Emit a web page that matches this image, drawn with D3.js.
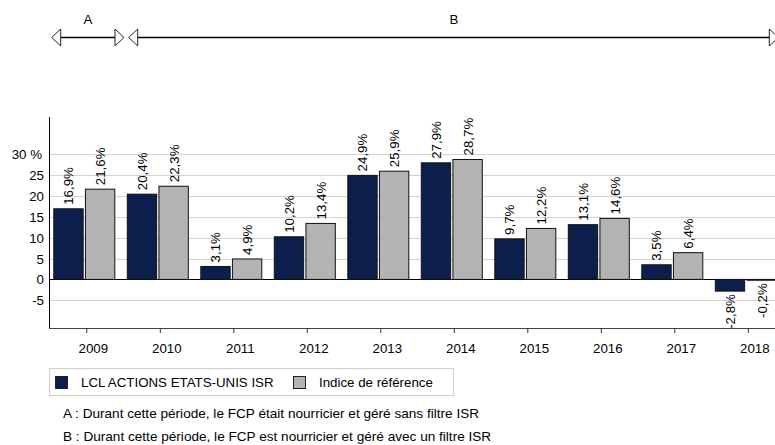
<!DOCTYPE html>
<html>
<head>
<meta charset="utf-8">
<script src="https://cdn.jsdelivr.net/npm/d3@7"></script>
<style>
  body { margin: 0; background: #fff; }
  text { font-family: "Liberation Sans", Arial, sans-serif; fill: #000; }
</style>
</head>
<body>
<script>
var width = 775,
  height = 445;

// donnees
var annees = ["2009", "2010", "2011", "2012", "2013", "2014", "2015", "2016", "2017", "2018"];
var fonds = [16.9, 20.4, 3.1, 10.2, 24.9, 27.9, 9.7, 13.1, 3.5, -2.8];
var indice = [21.6, 22.3, 4.9, 13.4, 25.9, 28.7, 12.2, 14.6, 6.4, -0.2];
var series = ["LCL ACTIONS ETATS-UNIS ISR", "Indice de référence"];
var yTicks = [-5, 0, 5, 10, 15, 20, 25, 30];
var periodes = [
  { nom: "A", debut: "2009", fin: "2009" },
  { nom: "B", debut: "2010", fin: "2018" }
];
var notes = [
  "A : Durant cette période, le FCP était nourricier et géré sans filtre ISR",
  "B : Durant cette période, le FCP est nourricier et géré avec un filtre ISR"
];

var taille = "13.3px";
var couleur = d3.scaleOrdinal().domain(series).range(["#0c1e4c", "#b3b3b3"]);

var svg = d3.select("body")
  .append("svg")
  .attr("width", width)
  .attr("height", height);

var x0 = d3.scaleBand().domain(annees).range([49.3, 784.3]).padding(0);
var x1 = d3.scaleBand().domain(series).range([4, 66]).paddingInner(0.04);
var y = d3.scaleLinear().domain([-11.7, 38.8]).range([328.3, 117.3]);

var data = annees.map(function (a, i) {
  return { annee: a, valeurs: [
    { serie: series[0], v: fonds[i] },
    { serie: series[1], v: indice[i] }
  ]};
});

// grille
svg.append("g")
  .selectAll("line")
  .data(yTicks)
  .enter().append("line")
  .attr("x1", 49)
  .attr("x2", width)
  .attr("y1", function (d) { return Math.round(y(d)) + 0.5; })
  .attr("y2", function (d) { return Math.round(y(d)) + 0.5; })
  .attr("stroke", function (d) { return d === 0 ? "#000" : "#d4d4d4"; })
  .attr("stroke-width", 1);

// etiquettes axe y
svg.append("g")
  .selectAll("text")
  .data(yTicks)
  .enter().append("text")
  .attr("x", function (d) { return d === 30 ? 42 : 44; })
  .attr("y", function (d) { return y(d) + 5; })
  .attr("text-anchor", "end")
  .style("font-size", taille)
  .text(function (d) { return d === 30 ? "30 %" : d; });

// barres
var groupes = svg.append("g")
  .selectAll("g")
  .data(data)
  .enter().append("g")
  .attr("transform", function (d) { return "translate(" + x0(d.annee) + ",0)"; });

groupes.selectAll("rect")
  .data(function (d) { return d.valeurs; })
  .enter().append("rect")
  .attr("x", function (d) { return x1(d.serie) + 0.5; })
  .attr("width", x1.bandwidth() - 1)
  .attr("y", function (d) { return Math.min(y(d.v), y(0)); })
  .attr("height", function (d) { return Math.abs(y(d.v) - y(0)); })
  .attr("fill", function (d) { return couleur(d.serie); })
  .attr("stroke", "#111")
  .attr("stroke-width", 1);

groupes.selectAll("text")
  .data(function (d) { return d.valeurs; })
  .enter().append("text")
  .attr("transform", function (d) {
    var cx = x1(d.serie) + x1.bandwidth() / 2 + 5;
    var cy = d.v >= 0 ? y(d.v) - 4 : y(d.v) + 3;
    return "translate(" + cx + "," + cy + ") rotate(-90)";
  })
  .attr("text-anchor", function (d) { return d.v >= 0 ? "start" : "end"; })
  .style("font-size", taille)
  .text(function (d) { return String(d.v).replace(".", ",") + "%"; });

// axes
svg.append("line")
  .attr("x1", 49.5).attr("x2", 49.5)
  .attr("y1", 117).attr("y2", 328.5)
  .attr("stroke", "#000");
svg.append("line")
  .attr("x1", 49).attr("x2", width)
  .attr("y1", 328.5).attr("y2", 328.5)
  .attr("stroke", "#444");

var ticks = svg.append("g")
  .selectAll("g")
  .data(annees)
  .enter().append("g")
  .attr("transform", function (d) { return "translate(" + x0(d) + ",0)"; });
ticks.append("line")
  .attr("x1", 37.5).attr("x2", 37.5)
  .attr("y1", 328).attr("y2", 333)
  .attr("stroke", "#333");
ticks.append("text")
  .attr("x", 44)
  .attr("y", 353)
  .attr("text-anchor", "middle")
  .style("font-size", taille)
  .text(function (d) { return d; });

// fleches des periodes
var fl = svg.append("g");
periodes.forEach(function (p, i) {
  var xa = x0(p.debut) + (i === 0 ? 2.4 : 5.9);
  var xb = x0(p.fin) + x0.step() + (i === periodes.length - 1 ? -6 : 1.2);
  var yy = 37.5;
  fl.append("line")
    .attr("x1", xa + 9).attr("x2", xb - 9)
    .attr("y1", yy).attr("y2", yy)
    .attr("stroke", "#000").attr("stroke-width", 1.5);
  fl.append("path")
    .attr("d", "M" + xa + "," + yy + "L" + (xa + 9) + "," + (yy - 8.5) + "L" + (xa + 9) + "," + (yy + 8.5) + "Z")
    .attr("fill", "#fff").attr("stroke", "#222");
  fl.append("path")
    .attr("d", "M" + xb + "," + yy + "L" + (xb - 9) + "," + (yy - 8.5) + "L" + (xb - 9) + "," + (yy + 8.5) + "Z")
    .attr("fill", "#fff").attr("stroke", "#222");
  fl.append("text")
    .attr("x", i === 0 ? (xa + xb) / 2 : 454)
    .attr("y", 24)
    .attr("text-anchor", "middle")
    .style("font-size", taille)
    .text(p.nom);
});

// legende
var leg = svg.append("g");
leg.append("rect")
  .attr("x", 49.5).attr("y", 368.5)
  .attr("width", 404).attr("height", 27)
  .attr("fill", "#fff").attr("stroke", "#d0d0d0");
var legX = [55, 293];
series.forEach(function (s, i) {
  leg.append("rect")
    .attr("x", legX[i] + 0.5).attr("y", 376.5)
    .attr("width", 12).attr("height", 12)
    .attr("fill", couleur(s)).attr("stroke", "#222");
  leg.append("text")
    .attr("x", legX[i] + 26)
    .attr("y", 387)
    .style("font-size", taille)
    .text(s);
});

// notes
svg.append("g")
  .selectAll("text")
  .data(notes)
  .enter().append("text")
  .attr("x", 63)
  .attr("y", function (d, i) { return 418 + i * 23; })
  .style("font-size", "13.6px")
  .text(function (d) { return d; });
</script>
</body>
</html>
